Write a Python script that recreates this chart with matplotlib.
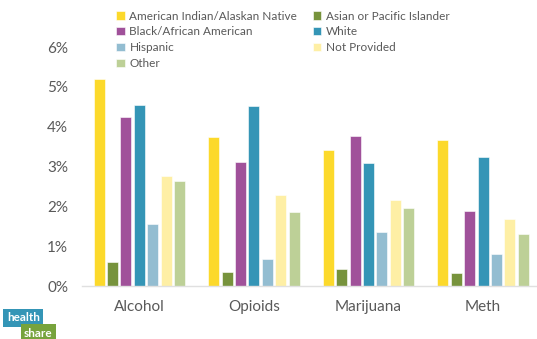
import matplotlib
matplotlib.use("Agg")
import matplotlib.pyplot as plt
import numpy as np

plt.rcParams['font.family'] = ['Lato', 'DejaVu Sans']

categories = ["Alcohol", "Opioids", "Marijuana", "Meth"]
series_names = ["American Indian/Alaskan Native", "Asian or Pacific Islander",
                "Black/African American", "White", "Hispanic", "Not Provided", "Other"]
american_indian = [5.19, 3.75, 3.42, 3.68]
asian_pacific = [0.60, 0.35, 0.43, 0.32]
black_african = [4.25, 3.12, 3.77, 1.88]
white = [4.54, 4.52, 3.10, 3.25]
hispanic = [1.56, 0.68, 1.35, 0.80]
not_provided = [2.77, 2.30, 2.15, 1.68]
other = [2.65, 1.85, 1.97, 1.30]
yticks = [0, 1, 2, 3, 4, 5, 6]
ytick_labels = ["0%", "1%", "2%", "3%", "4%", "5%", "6%"]

series = [american_indian, asian_pacific, black_african, white, hispanic, not_provided, other]
colors = ["#FCD92B", "#77933C", "#A0519A", "#3495B6", "#93BDD1", "#FEEFA5", "#BDD097"]

fig = plt.figure(figsize=(5.37, 3.39), dpi=100)
ax = fig.add_axes([0.1527, 0.156, 0.845, 0.705])

x = np.arange(len(categories))
step = 0.117
width = 0.096
handles = []
for i, (vals, c, name) in enumerate(zip(series, colors, series_names)):
    b = ax.bar(x + (i - 3) * step, vals, width=width, color=c, label=name,
               edgecolor='white', linewidth=0.4)
    handles.append(b)

ax.set_xlim(-0.5, 3.46)
ax.set_ylim(0, 6)
ax.set_yticks(yticks)
ax.set_yticklabels(ytick_labels)
ax.set_xticks(x)
ax.set_xticklabels(categories)
ax.tick_params(axis='both', length=0, colors='#595959', labelsize=11)
ax.tick_params(axis='x', pad=10)
ax.tick_params(axis='y', pad=10)
for s in ['top', 'right', 'left']:
    ax.spines[s].set_visible(False)
ax.spines['bottom'].set_color('#E0E0E0')
ax.spines['bottom'].set_linewidth(1.0)

# row-wise legend order (matplotlib fills columns first)
order = [0, 2, 4, 6, 1, 3, 5]
fig.legend(handles=[handles[k] for k in order], labels=[series_names[k] for k in order],
           ncol=2, loc='upper left',
           bbox_to_anchor=(0.197, 1.0), frameon=False, fontsize=8.5,
           handlelength=0.7, handleheight=0.7, handletextpad=0.4,
           columnspacing=1.3, labelspacing=0.4, labelcolor='#595959')

fig.text(0.013, 0.052, "health", color='white', fontsize=8.5, fontweight='bold',
         bbox=dict(boxstyle='square,pad=0.3', fc='#3495B6', ec='none'))
fig.text(0.045, 0.006, "share", color='white', fontsize=8.5, fontweight='bold',
         bbox=dict(boxstyle='square,pad=0.3', fc='#77A33C', ec='none'))

fig.savefig("out.png", dpi=100)
